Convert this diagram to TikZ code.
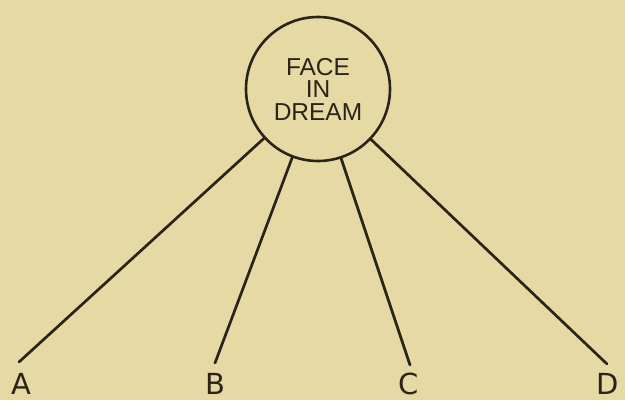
\documentclass[tikz,border=0pt]{standalone}
\usepackage{fontspec}
\setmainfont{Liberation Sans}
\newfontfamily\widefont{DejaVu Sans}
\definecolor{paper}{HTML}{E6D9A4}
\definecolor{ink}{HTML}{2A2418}
\begin{document}
\begin{tikzpicture}[x=1pt,y=-1pt,
  link/.style={draw=ink,line width=2.7pt,line cap=round},
  letter/.style={text=ink,font=\widefont\fontsize{29}{29}\selectfont,inner sep=0pt,text depth=0pt,anchor=base}]
\fill[paper] (0,0) rectangle (625,400);
\useasboundingbox (0,0) rectangle (625,400);
\node[circle,draw=ink,line width=2.6pt,minimum size=144pt,inner sep=0pt,
      text=ink,align=center,font=\fontsize{24.5}{22.5}\selectfont] (face) at (318,89)
      {FACE\\IN\\DREAM};
\coordinate (ea) at (19,362);
\coordinate (eb) at (215,363);
\coordinate (ec) at (410,365);
\coordinate (ed) at (607,364);
\draw[link] (face) -- (ea);
\draw[link] (face) -- (eb);
\draw[link] (face) -- (ec);
\draw[link] (face) -- (ed);
\node[letter] (la) at (21,394) {A};
\node[letter] (lb) at (215,394) {B};
\node[letter] (lc) at (409,394) {C};
\node[letter] (ld) at (608,394) {D};
\end{tikzpicture}
\end{document}
